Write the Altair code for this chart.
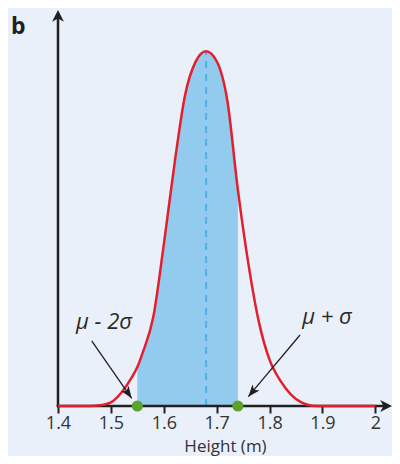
import altair as alt
import pandas as pd

# ---- data ----
height_m = [1.40, 1.46, 1.48, 1.50, 1.52, 1.54, 1.55, 1.56, 1.58, 1.60, 1.62, 1.64, 1.66,
            1.68, 1.70, 1.72, 1.74, 1.76, 1.78, 1.80, 1.82, 1.84, 1.86, 1.88, 1.90, 2.00]
density = [0.0, 0.0, 0.002, 0.010, 0.038, 0.082, 0.110, 0.150, 0.250, 0.455, 0.680, 0.875, 0.970,
           1.000, 0.972, 0.862, 0.610, 0.400, 0.235, 0.130, 0.072, 0.033, 0.010, 0.001, 0.0, 0.0]
mu = 1.68
peak = 1.0
lower = 1.55
upper = 1.74
dot_x = [1.55, 1.74]
tick_values = [1.4, 1.5, 1.6, 1.7, 1.8, 1.9, 2.0]
annot_text = ["μ - 2σ", "μ + σ"]
annot_x = [1.487, 1.9085]
annot_y = [0.217, 0.231]
arrow_x0 = [1.4637, 1.8575]
arrow_y0 = [0.1833, 0.2002]
arrow_x1 = [1.5393, 1.7597]
arrow_y1 = [0.0217, 0.0262]
arrow_angle = [145, 220]
panel_label = ["b"]

X_MIN, X_END = 1.4, 2.0314
Y_TOP = 1.1164

BG = "#EAF0FA"
INK = "#231F20"
RED = "#E31E2D"
FILL = "#93CBEE"
DASH = "#4FB0E8"
GREEN = "#5BA22E"
FONT = "Open Sans"

ARROW_HEAD = "M0,0 L0.5,1 L0,0.72 L-0.5,1 Z"
ANNOT_HEAD = "M0,0 L0.38,1 L0,0.75 L-0.38,1 Z"

curve = pd.DataFrame({"x": height_m, "y": density})
xs = alt.Scale(domain=[X_MIN, X_END], nice=False, zero=False)
ys = alt.Scale(domain=[0, Y_TOP], nice=False, zero=False)
x_axis = alt.Axis(values=tick_values, format="~g", domain=False, grid=False,
                  tickColor=INK, tickWidth=2, tickSize=7, labelFlush=False,
                  labelOverlap=False, labelFont=FONT, labelFontSize=18,
                  labelColor="#333333", labelPadding=1, titleFont=FONT,
                  titleFontSize=17, titleFontWeight="normal", titleColor="#333333",
                  titleBaseline="alphabetic", titleY=45, titleX=167, titleAlign="center")


def X(field="x"):
    return alt.X(field, type="quantitative", scale=xs, axis=x_axis, title="Height (m)")


def Y(field="y"):
    return alt.Y(field, type="quantitative", scale=ys, axis=None)


area = alt.Chart(curve).transform_filter(
    (alt.datum.x >= lower) & (alt.datum.x <= upper)
).mark_area(color=FILL, interpolate="monotone").encode(x=X(), y=Y())

mean_rule = alt.Chart(pd.DataFrame({"x": [mu], "y": [0.0], "y2": [peak]})).mark_rule(
    color=DASH, strokeWidth=2, strokeDash=[7, 6]
).encode(x=X(), y=Y(), y2="y2")

x_line = alt.Chart(pd.DataFrame({"x": [X_MIN], "x2": [X_END - 0.01], "y": [0.0]})).mark_rule(
    color=INK, strokeWidth=2.5, strokeCap="square"
).encode(x=X(), x2="x2", y=Y())

y_line = alt.Chart(pd.DataFrame({"x": [X_MIN], "y": [0.0], "y2": [Y_TOP - 0.02]})).mark_rule(
    color=INK, strokeWidth=2.5, strokeCap="square"
).encode(x=X(), y=Y(), y2="y2")

axis_heads = alt.Chart(pd.DataFrame({"x": [X_END, X_MIN], "y": [0.0, Y_TOP], "a": [90, 0]})).mark_point(
    shape=ARROW_HEAD, filled=True, color=INK, opacity=1, size=560, strokeWidth=0
).encode(x=X(), y=Y(), angle=alt.Angle("a:Q", scale=None))

line = alt.Chart(curve).mark_line(color=RED, strokeWidth=2.5, interpolate="monotone").encode(x=X(), y=Y())

dots = alt.Chart(pd.DataFrame({"x": dot_x, "y": [0.0] * len(dot_x)})).mark_point(
    shape="circle", filled=True, color=GREEN, opacity=1, size=125, strokeWidth=0
).encode(x=X(), y=Y())

arrows_df = pd.DataFrame({"x": arrow_x0, "y": arrow_y0, "x2": arrow_x1, "y2": arrow_y1,
                          "a": arrow_angle})
arrow_lines = alt.Chart(arrows_df).mark_rule(color=INK, strokeWidth=1.3).encode(
    x=X(), y=Y(), x2="x2", y2="y2")
arrow_heads = alt.Chart(arrows_df).mark_point(
    shape=ANNOT_HEAD, filled=True, color=INK, opacity=1, size=576, strokeWidth=0
).encode(x=alt.X("x2", type="quantitative", scale=xs, axis=x_axis, title="Height (m)"),
         y=alt.Y("y2", type="quantitative", scale=ys, axis=None),
         angle=alt.Angle("a:Q", scale=None))

labels = alt.Chart(pd.DataFrame({"x": annot_x, "y": annot_y, "t": annot_text})).mark_text(
    font=FONT, fontSize=22, fontStyle="italic", color="#2A2A2A", align="center",
    baseline="alphabetic"
).encode(x=X(), y=Y(), text="t:N")

panel = alt.Chart(pd.DataFrame({"t": panel_label})).mark_text(
    font=FONT, fontSize=23, fontWeight="bold", color=INK, align="left", baseline="alphabetic"
).encode(x=alt.value(-47), y=alt.value(24), text="t:N")

chart = alt.layer(
    area, mean_rule, x_line, y_line, axis_heads, line, dots, arrow_lines, arrow_heads, labels, panel
).properties(
    width=334, height=396,
    autosize=alt.AutoSizeParams(type="none"),
    padding={"left": 50, "top": 2, "right": 0, "bottom": 50},
    background=BG,
).configure_view(stroke=None)

chart.save("out.html", embed_options={"renderer": "svg", "actions": False})
